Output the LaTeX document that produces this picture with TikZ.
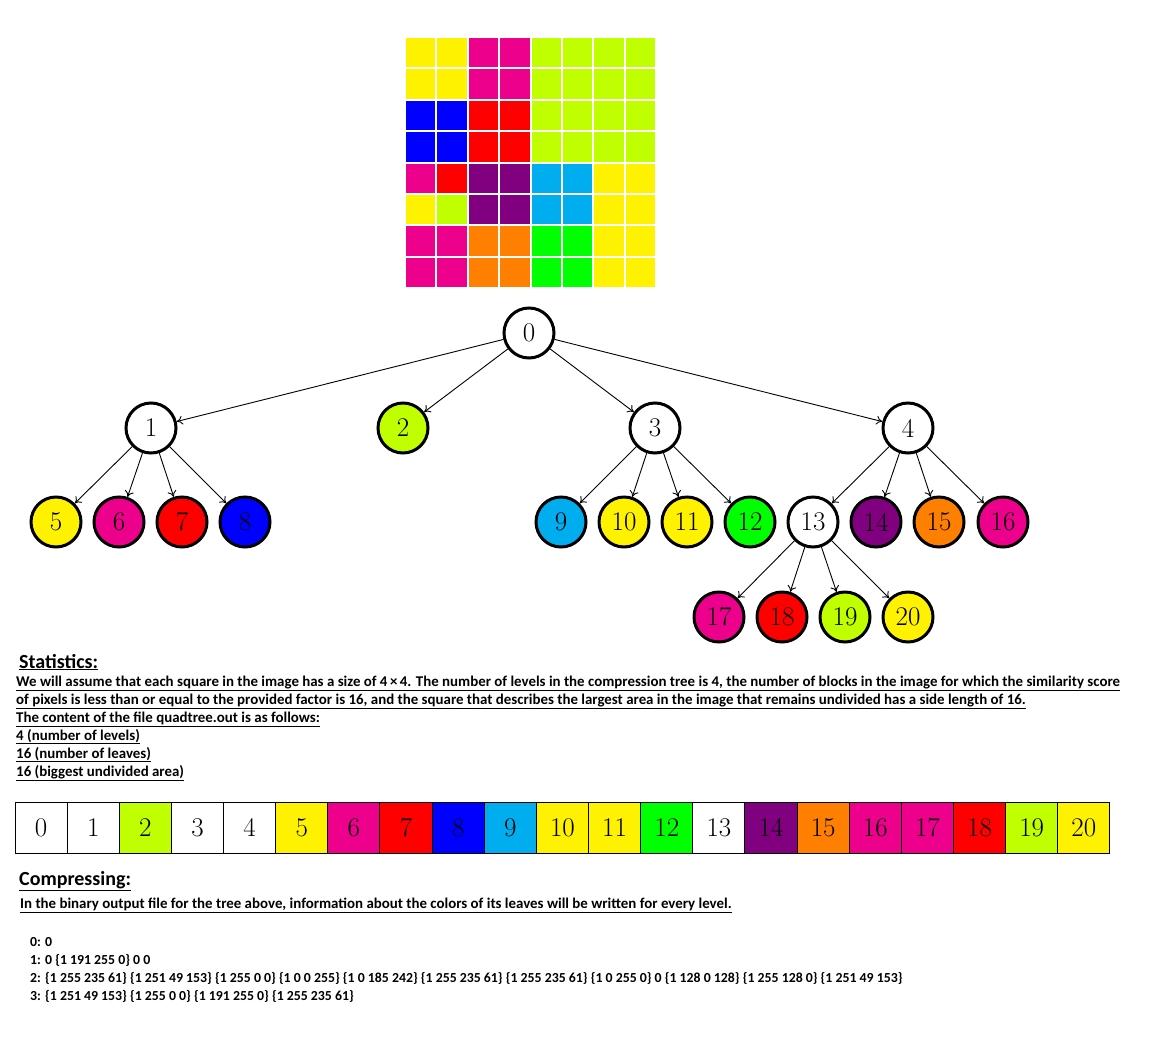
\documentclass[tikz,border=0pt]{standalone}
\usepackage{fontspec}
\usetikzlibrary{arrows.meta}
\newfontfamily\calfont{Carlito}
\definecolor{cW}{RGB}{255,255,255}
\definecolor{cY}{RGB}{255,242,0}
\definecolor{cM}{RGB}{236,0,140}
\definecolor{cL}{RGB}{191,255,0}
\definecolor{cR}{RGB}{255,0,0}
\definecolor{cB}{RGB}{0,0,255}
\definecolor{cC}{RGB}{0,174,239}
\definecolor{cG}{RGB}{0,255,0}
\definecolor{cP}{RGB}{128,0,128}
\definecolor{cO}{RGB}{255,128,0}
\tikzset{
  cell/.style={fill=#1, draw=white, line width=2pt},
  treenode/.style={circle, draw=black, line width=3pt, minimum size=50pt, inner sep=0pt, fill=c#1, font=\fontsize{27}{27}\selectfont},
  edge/.style={line width=0.9pt, -{To[length=6pt,width=9pt]}},
  arrcell/.style={rectangle, draw=black, line width=1pt, minimum width=52.14pt, minimum height=51pt, inner sep=0pt, fill=c#1, font=\fontsize{27}{27}\selectfont},
  heading/.style={anchor=base west, inner sep=0pt, font=\calfont\bfseries\fontsize{20}{22}\selectfont},
  bodytext/.style={anchor=base west, inner sep=0pt, font=\calfont\bfseries\fontsize{14.9}{17}\selectfont},
  codetext/.style={anchor=base west, inner sep=0pt, font=\calfont\bfseries\fontsize{13.8}{16}\selectfont},
}
\begin{document}
\begin{tikzpicture}[x=1pt,y=-1pt]
\useasboundingbox (0,0) rectangle (1172,1052);
% image grid
\foreach \r/\lst in {0/{Y,Y,M,M,L,L,L,L},1/{Y,Y,M,M,L,L,L,L},2/{B,B,R,R,L,L,L,L},3/{B,B,R,R,L,L,L,L},4/{M,R,P,P,C,C,Y,Y},5/{Y,L,P,P,C,C,Y,Y},6/{M,M,O,O,G,G,Y,Y},7/{M,M,O,O,G,G,Y,Y}}{
  \foreach \c [count=\i from 0] in \lst {
    \path[cell=c\c] (405+31.375*\i,37+31.375*\r) rectangle ++(31.375,31.375);
  }
}
% tree
\node[treenode=W] (n0) at (529,333) {0};
\node[treenode=W] (n1) at (151,428) {1};
\node[treenode=L] (n2) at (403,428) {2};
\node[treenode=W] (n3) at (655,428) {3};
\node[treenode=W] (n4) at (908,428) {4};
\node[treenode=Y] (n5) at (56,522) {5};
\node[treenode=M] (n6) at (119,522) {6};
\node[treenode=R] (n7) at (182,522) {7};
\node[treenode=B] (n8) at (245,522) {8};
\node[treenode=C] (n9) at (561,522) {9};
\node[treenode=Y] (n10) at (624,522) {10};
\node[treenode=Y] (n11) at (687,522) {11};
\node[treenode=G] (n12) at (750,522) {12};
\node[treenode=W] (n13) at (813,522) {13};
\node[treenode=P] (n14) at (876,522) {14};
\node[treenode=O] (n15) at (939,522) {15};
\node[treenode=M] (n16) at (1003,522) {16};
\node[treenode=M] (n17) at (719,617) {17};
\node[treenode=R] (n18) at (782,617) {18};
\node[treenode=L] (n19) at (845,617) {19};
\node[treenode=Y] (n20) at (908,617) {20};
\foreach \p/\c in {0/1,0/2,0/3,0/4,1/5,1/6,1/7,1/8,3/9,3/10,3/11,3/12,4/13,4/14,4/15,4/16,13/17,13/18,13/19,13/20}
  \draw[edge] (n\p) -- (n\c);
% statistics text
\node[heading] (h1) at (19,668) {\underline{Statistics:}};
\node[bodytext] (t1) at (16,686) {\underline{We will assume that each square in the image has a size of 4\,×\,4. The number of levels in the compression tree is 4, the number of blocks in the image for which the similarity score}};
\node[bodytext] (t2) at (16,704) {\underline{of pixels is less than or equal to the provided factor is 16, and the square that describes the largest area in the image that remains undivided has a side length of 16.}};
\node[bodytext] (t3) at (16,722) {\underline{The content of the file quadtree.out is as follows:}};
\node[bodytext] (t4) at (16,740) {\underline{4 (number of levels)}};
\node[bodytext] (t5) at (16,758) {\underline{16 (number of leaves)}};
\node[bodytext] (t6) at (16,776) {\underline{16 (biggest undivided area)}};
% array
\foreach \c [count=\i from 0] in {W,W,L,W,W,Y,M,R,B,C,Y,Y,G,W,P,O,M,M,R,L,Y}
  \node[arrcell=\c] (a\i) at (15+52.14*\i+26.07,827.5) {\i};
% compressing text
\node[heading] (h2) at (19,885) {\underline{Compressing:}};
\node[bodytext] (t7) at (20,908) {\underline{In the binary output file for the tree above, information about the colors of its leaves will be written for every level.}};
\node[codetext] (c0) at (30,946) {0: 0};
\node[codetext] (c1) at (30,964) {1: 0 \{1 191 255 0\} 0 0};
\node[codetext] (c2) at (30,982) {2: \{1 255 235 61\} \{1 251 49 153\} \{1 255 0 0\} \{1 0 0 255\} \{1 0 185 242\} \{1 255 235 61\} \{1 255 235 61\} \{1 0 255 0\} 0 \{1 128 0 128\} \{1 255 128 0\} \{1 251 49 153\}};
\node[codetext] (c3) at (30,1000) {3: \{1 251 49 153\} \{1 255 0 0\} \{1 191 255 0\} \{1 255 235 61\}};
\end{tikzpicture}
\end{document}
